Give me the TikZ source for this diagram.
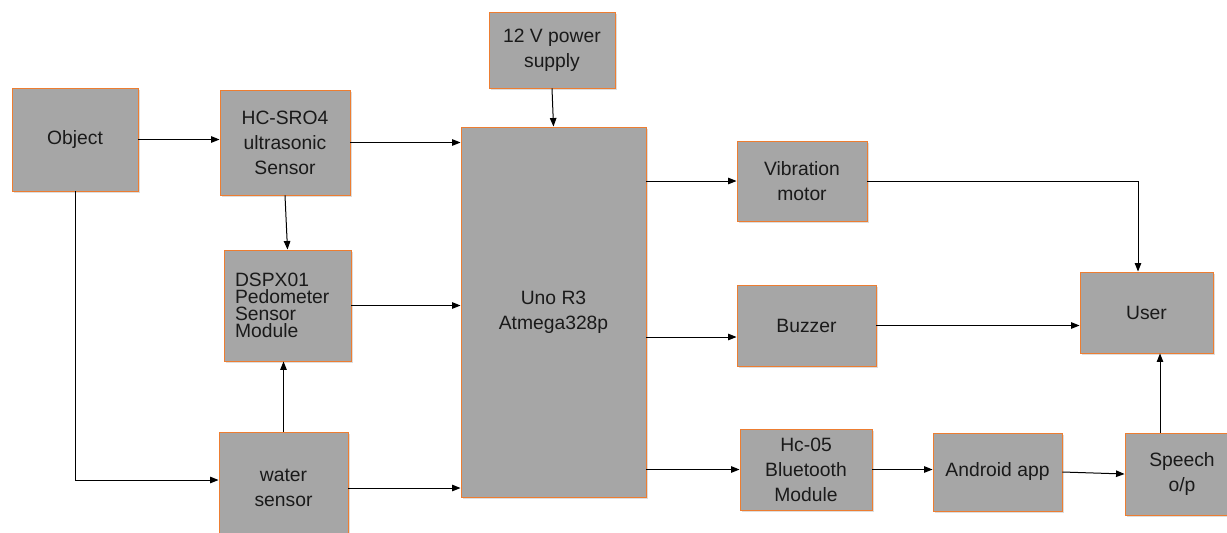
\documentclass[tikz,border=0pt]{standalone}
\usepackage{fontspec}
\setmainfont{Liberation Sans}
\usetikzlibrary{arrows.meta,shadows,positioning}
\definecolor{blkfill}{HTML}{A6A6A6}
\definecolor{blkedge}{HTML}{ED7D31}
\definecolor{blktext}{HTML}{1A1A1A}
\tikzset{
  blk/.style={
    draw=blkedge,
    fill=blkfill,
    line width=0.9pt,
    inner sep=0pt,
    text=blktext,
    font=\fontsize{19.3}{25}\selectfont,
    align=center,
    drop shadow={shadow xshift=1.5pt, shadow yshift=-1.5pt, fill=black!22, opacity=0.6}
  },
  arr/.style={-{Triangle[length=8.5pt,width=6.5pt]}, line width=1pt, draw=black},
}
\newcommand{\Blk}[6]{%
  \node[blk, minimum width=#4pt, minimum height=#5pt] (#1) at (#2,#3) {#6};
}

\begin{document}
\begin{tikzpicture}[x=1pt,y=-1pt]
  \useasboundingbox (0,0) rectangle (1227,533);
  \clip (0,0) rectangle (1227,533);
  % blocks
  \Blk{obj}{75}{139.5}{126}{103}{Object}
  \Blk{hcs}{285}{142.5}{130}{105}{HC-SRO4\\ultrasonic\\Sensor}
  \node[blk, minimum width=127pt, minimum height=111pt, text width=105pt, align=left,
        font=\fontsize{19.3}{17}\selectfont] (ped) at (287.5,305.5)
        {DSPX01\\Pedometer\\Sensor\\Module};
  \Blk{wat}{283.5}{488}{129}{112}{water\\sensor}
  \Blk{pwr}{552}{50}{126}{76}{12 V power\\supply}
  \Blk{uno}{553.5}{312}{185}{370}{Uno R3\\Atmega328p}
  \Blk{vib}{802}{181}{130}{80}{Vibration\\motor}
  \Blk{buz}{806.5}{325.5}{139}{81}{Buzzer}
  \Blk{usr}{1146.5}{312.5}{133}{81}{User}
  \Blk{bt}{806}{469.5}{132}{81}{Hc-05\\Bluetooth\\Module}
  \Blk{app}{997.5}{472}{129}{78}{Android app}
  \Blk{spk}{1182}{474}{114}{82}{Speech\\o/p}
  % connectors
  \coordinate (bz) at ([yshift=-11.5pt]buz.west);
  \coordinate (wt) at ([yshift=8pt]wat.west);
  \coordinate (vu) at ([xshift=-8.5pt]usr.north);
  \coordinate (su) at ([xshift=-22pt]spk.north);
  \draw[arr] (obj.east) -- (obj.east -| hcs.west);
  \draw[arr] (obj.south) |- (wt);
  \draw[arr] (hcs.east) -- (hcs.east -| uno.west);
  \draw[arr] (hcs.south) -- (ped.north);
  \draw[arr] (wat.north) -- (wat.north |- ped.south);
  \draw[arr] (ped.east) -- (ped.east -| uno.west);
  \draw[arr] (wat.east) -- (wat.east -| uno.west);
  \draw[arr] (pwr.south) -- (uno.north);
  \draw[arr] (vib.west -| uno.east) -- (vib.west);
  \draw[arr] (bz -| uno.east) -- (bz);
  \draw[arr] (bt.west -| uno.east) -- (bt.west);
  \draw[arr] (bt.east) -- (bt.east -| app.west);
  \draw[arr] (app.east) -- (spk.west);
  \draw[arr] (su) -- (su |- usr.south);
  \draw[arr] (vib.east) -| (vu);
  \draw[arr] (buz.east) -- (buz.east -| usr.west);
\end{tikzpicture}
\end{document}
